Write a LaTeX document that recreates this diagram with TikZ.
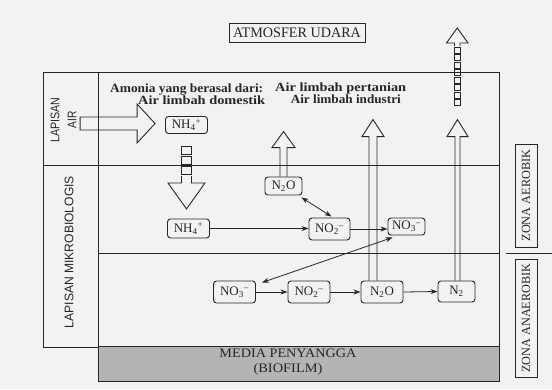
\documentclass[tikz,border=0pt]{standalone}
\usepackage{fontspec}
\setmainfont{Liberation Serif}
\setsansfont{Liberation Sans}
\usepackage{graphicx}
\usetikzlibrary{arrows.meta}
\definecolor{bgc}{HTML}{F2F2F2}
\definecolor{ink}{HTML}{262626}
\definecolor{greyband}{HTML}{B4B4B4}
\newcommand\fitw[2]{\resizebox{#1}{\height}{#2}}
\begin{document}
\begin{tikzpicture}[x=1pt,y=-1pt,
  frame/.style={draw=ink,line width=0.9pt},
  chem/.style={draw=ink,line width=0.9pt,rounded corners=3pt,text=ink,
    font=\fontsize{13}{14}\selectfont,minimum width=42pt,minimum height=20pt,inner sep=1.5pt},
  hol/.style={draw=ink,line width=0.9pt,line join=miter},
  arr/.style={draw=ink,line width=0.8pt,-{Stealth[length=7pt,width=5pt]}},
  dbl/.style={draw=ink,line width=0.8pt,{Stealth[length=7pt,width=5pt]}-{Stealth[length=7pt,width=5pt]}},
  lbl/.style={text=ink,inner sep=0pt,font=\bfseries\fontsize{12.5}{13}\selectfont},
  zone/.style={draw=ink,line width=0.9pt,rotate=90,minimum height=22pt,inner sep=0pt,
    text=ink,font=\fontsize{12.5}{13}\selectfont},
]
\useasboundingbox (0,0) rectangle (552,389);
\fill[bgc] (0,0) rectangle (552,389);

% frame
\fill[greyband] (98,346) rectangle (499,381);
\draw[frame] (98,346) rectangle (499,381);
\draw[frame] (43,72) -- (499,72) -- (499,381);
\draw[frame] (43,72) -- (43,347) -- (98,347);
\draw[frame] (98,72) -- (98,346);
\draw[frame] (43,165) -- (499,165);
\draw[frame] (98,253) -- (499,253);
\draw[frame] (506,253) -- (552,253);

% labels
\node[zone,minimum width=103pt] (zA) at (526,195.5) {\fitw{92pt}{ZONA AEROBIK}};
\node[zone,minimum width=118pt] (zB) at (526,318) {\fitw{109pt}{ZONA ANAEROBIK}};
\node[rotate=90,align=center,text=ink,inner sep=0pt,
  font=\sffamily\fontsize{12.5}{17}\selectfont] (la) at (63.5,120) {\fitw{45pt}{LAPISAN}\\\fitw{17pt}{AIR}};
\node[rotate=90,text=ink,inner sep=0pt,
  font=\sffamily\fontsize{12.5}{13}\selectfont] (lm) at (69,252) {\fitw{152pt}{LAPISAN MIKROBIOLOGIS}};
\node[draw=ink,line width=0.9pt,minimum width=136pt,minimum height=19pt,inner sep=0pt,
  text=ink,font=\fontsize{14.5}{15}\selectfont] (atm) at (297,32.5) {\fitw{128pt}{ATMOSFER UDARA}};
\node[text=ink,align=center,inner sep=0pt,font=\fontsize{13}{15}\selectfont] (media) at (288,362)
  {\fitw{137pt}{MEDIA PENYANGGA}\\\fitw{69pt}{(BIOFILM)}};

\node[lbl,anchor=base west] (t1) at (110,92) {\fitw{153pt}{Amonia yang berasal dari:}};
\node[lbl,anchor=base west] (t2) at (138,104) {\fitw{127pt}{Air limbah domestik}};
\node[lbl,anchor=base west] (t3) at (275,91) {\fitw{131pt}{Air limbah pertanian}};
\node[lbl,anchor=base east] (t4) at (401,103) {\fitw{110pt}{Air limbah industri}};

% chemical nodes
\node[chem,minimum height=17pt] (nh4T) at (186.5,125) {NH\textsubscript{4}\textsuperscript{+}};
\node[chem,minimum height=19pt] (nh4L) at (188.5,228.5) {NH\textsubscript{4}\textsuperscript{+}};
\node[chem,minimum width=41pt,minimum height=22pt] (no2M) at (329.5,229) {NO\textsubscript{2}\textsuperscript{–}};
\node[chem,minimum width=37pt,minimum height=17pt] (no3U) at (406.5,226.5) {NO\textsubscript{3}\textsuperscript{–}};
\node[chem,minimum width=37pt,minimum height=18pt] (n2oT) at (283.5,186) {N\textsubscript{2}O};
\node[chem,minimum height=22pt] (no3L) at (234.5,292) {NO\textsubscript{3}\textsuperscript{–}};
\node[chem,minimum height=22pt] (no2L) at (309,292) {NO\textsubscript{2}\textsuperscript{–}};
\node[chem,minimum height=22pt] (n2oL) at (382,292) {N\textsubscript{2}O};
\node[chem,minimum width=37pt,minimum height=21pt] (n2) at (456.5,291.5) {N\textsubscript{2}};

% thin arrows
\draw[arr] (nh4L.east) -- (no2M.west |- nh4L.east);
\draw[arr] (no2M.east) -- (no3U.west |- no2M.east);
\draw[dbl] ([shift={(-1,2)}]n2oT.south east) -- ([shift={(2,-1)}]no2M.north);
\draw[dbl] ([shift={(5,2)}]no3U.south west) -- ([shift={(6,2)}]no3L.north east);
\draw[arr] (no3L.east) -- (no2L.west);
\draw[arr] (no2L.east) -- (n2oL.west);
\draw[arr] (n2oL.east) -- (n2.west);

% hollow arrows
\draw[hol] ([shift={(-10,-1.5)}]nh4T.west) -- ++(-18,19.5) -- ++(0,-13) -- ++(-57,0)
  -- ++(0,-13) -- ++(57,0) -- ++(0,-13) -- cycle;
\draw[hol] ([shift={(-5,12)}]nh4T.south) rectangle ++(10,8);
\draw[hol] ([shift={(-5,22)}]nh4T.south) rectangle ++(10,8);
\draw[hol] ([shift={(-5,32)}]nh4T.south) rectangle ++(10,8);
\draw[hol] ([shift={(-5,42)}]nh4T.south) -- ++(0,7) -- ++(-13.5,0) -- ++(18.5,26)
  -- ++(18.5,-26) -- ++(-13.5,0) -- ++(0,-7);
\draw[hol] ([xshift=-3.5pt]n2oT.north) -- ++(0,-29) -- ++(-8,0) -- ++(11.5,-16)
  -- ++(11.5,16) -- ++(-8,0) -- ++(0,29);
\draw[hol] ([xshift=-13pt]n2oL.north) -- ++(0,-144) -- ++(-7,0) -- ++(11,-17)
  -- ++(11,17) -- ++(-7,0) -- ++(0,144);
\draw[hol] ([xshift=-1.5pt]n2.north) -- ++(0,-144) -- ++(-8,0) -- ++(10.5,-17)
  -- ++(10.5,17) -- ++(-8,0) -- ++(0,144);
% dashed escape to atmosphere
\foreach \i in {0,...,7} {
  \draw[hol,line width=0.8pt] (454.5,47+7.5*\i) rectangle ++(5.5,6);
}
\draw[hol] (454.5,46) -- (454.5,43) -- (446.5,43) -- (457.25,28) -- (468,43) -- (460,43) -- (460,46);
\end{tikzpicture}
\end{document}
